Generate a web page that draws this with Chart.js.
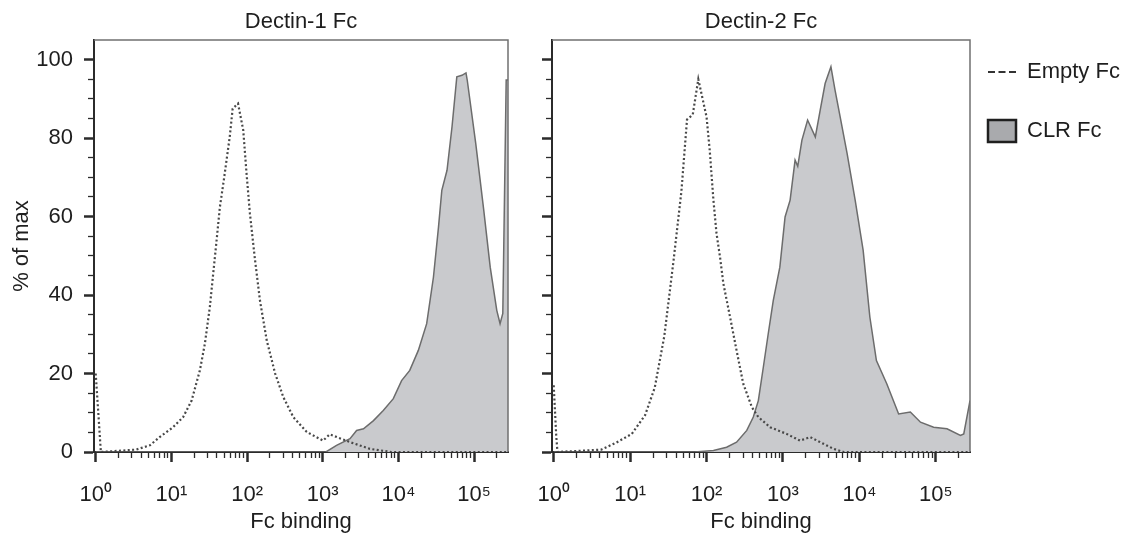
<!DOCTYPE html>
<html>
<head>
<meta charset="utf-8">
<script src="https://cdn.jsdelivr.net/npm/chart.js@4.4.1/dist/chart.umd.min.js"></script>
<style>
  html, body { margin: 0; padding: 0; background: #fff; overflow: hidden; }
  body { position: relative; width: 1127px; height: 543px; }
  canvas { position: absolute; top: 0; }
  #dectin1 { left: 0; }
  #dectin2 { left: 530px; }
  #legend { left: 951px; top: 24px; }
</style>
</head>
<body>
<canvas id="dectin1" width="530" height="543"></canvas>
<canvas id="dectin2" width="460" height="543"></canvas>
<canvas id="legend" width="360" height="200"></canvas>
<script>
// histogram values (x = Fc binding, y = % of max)
const dectin1EmptyX = [1, 1.1, 1.17, 2, 3.4, 5.2, 7, 10.5, 14.3, 18.5, 23.8, 27.7, 32.2, 35.7, 39.6, 43.7, 49.3, 59, 64.5, 76, 89, 98.4, 109, 126, 148, 182, 235, 301, 408, 614, 1010, 1235, 2300, 4200, 8000, 280000];
const dectin1EmptyY = [20, 8, 0, 0.3, 0.6, 1.7, 3.8, 6.3, 8.9, 13.1, 20.8, 27.6, 36.9, 45.5, 54, 62.4, 69.3, 80.3, 87.5, 88.8, 82, 71, 60.8, 49.7, 38.6, 28.4, 20, 14, 8.9, 5.1, 2.9, 4.5, 2.5, 0.8, 0, 0];
const dectin1ClrX = [1, 1100, 1520, 2290, 2800, 3450, 4680, 6300, 8550, 11000, 14100, 18300, 23600, 29000, 33800, 37400, 43800, 51000, 59000, 69000, 78000, 81000, 105000, 134000, 163000, 199000, 220000, 239000, 265000, 280000];
const dectin1ClrY = [0, 0, 1.7, 3.4, 5.5, 5.9, 8, 10.6, 13.6, 18.2, 20.8, 25.9, 32.7, 44.6, 57.3, 66.7, 71.8, 82.9, 95.6, 96, 96.6, 94.8, 78.6, 61.6, 47.1, 36.1, 32.7, 35.3, 94.8, 94.8];

const dectin2EmptyX = [1, 1.08, 1.12, 4.2, 6.6, 10.5, 15.7, 21, 28, 37, 46.8, 55.5, 66, 78, 93, 100, 110, 123, 135, 150, 166, 203, 247, 302, 392, 476, 680, 1120, 1670, 2270, 3070, 4600, 6200, 280000];
const dectin2EmptyY = [17, 4, 0, 0.6, 2.4, 4.6, 9.4, 16.4, 29.5, 48.8, 66.3, 84.7, 86, 95, 88.2, 85.4, 76.9, 64.2, 55.7, 49.7, 42.9, 34.4, 25.9, 17.4, 11.4, 8.9, 6.3, 4.6, 2.9, 3.8, 2.5, 0.8, 0, 0];
const dectin2ClrX = [1, 70, 123, 183, 247, 336, 409, 476, 553, 642, 746, 910, 1065, 1240, 1440, 1560, 1770, 2100, 2650, 3070, 3560, 4240, 4800, 5600, 6900, 8800, 11200, 13700, 16700, 22800, 32600, 46400, 63000, 93600, 140000, 210000, 232000, 280000];
const dectin2ClrY = [0, 0, 0.4, 1.2, 2.5, 5.5, 8.9, 13.1, 21.6, 30.2, 38.6, 47.1, 59.9, 64.2, 74.4, 72.8, 79.5, 84.6, 80.3, 87.1, 93.9, 98.2, 92.2, 85.4, 76.1, 64.2, 51.4, 34.4, 23.3, 17.4, 9.7, 10.2, 7.6, 6.3, 5.9, 4.2, 4.6, 13.1];

const xDecades = [1, 10, 100, 1000, 10000, 100000];
const xTickLabels = ['10⁰', '10¹', '10²', '10³', '10⁴', '10⁵'];
const yTickValues = [0, 20, 40, 60, 80, 100];
const yTickLabels = ['0', '20', '40', '60', '80', '100'];

const X_MIN = 0.95;
const X_MAX = 280000;
const Y_MAX = 105;
const AXIS_COLOR = '#2b2b2b';

Chart.defaults.font.family = '"Liberation Sans", Arial, sans-serif';
Chart.defaults.font.size = 22;
Chart.defaults.color = '#1e1e1e';

// minor tick marks: 1..9 per decade, every 5 on y
const xTickMarks = [];
xDecades.forEach((d) => {
    for (let k = 1; k <= 9; k++) {
        if (k * d <= X_MAX) xTickMarks.push(k * d);
    }
});
const yTickMarks = [];
for (let v = 0; v <= 100; v += 5) yTickMarks.push(v);

const isMajorX = (c) => c.tick && xDecades.includes(c.tick.value);
const isMajorY = (c) => c.tick && yTickValues.includes(c.tick.value);

function points(xs, ys) {
    return xs.map((x, i) => ({ x: x, y: ys[i] }));
}

// gray box line on top and right of the plot
const framePlugin = {
    id: 'frame',
    afterDatasetsDraw(chart) {
        const { ctx, chartArea } = chart;
        ctx.save();
        ctx.strokeStyle = '#707070';
        ctx.lineWidth = 1.5;
        ctx.beginPath();
        ctx.moveTo(chartArea.left, chartArea.top);
        ctx.lineTo(chartArea.right, chartArea.top);
        ctx.lineTo(chartArea.right, chartArea.bottom);
        ctx.stroke();
        ctx.restore();
    },
};

function panelConfig(title, emptyData, clrData, showYLabels, yAxisWidth, rightPad) {
    return {
        type: 'line',
        data: {
            datasets: [
                {
                    label: 'Empty Fc',
                    data: emptyData,
                    borderColor: '#484848',
                    borderWidth: 2.2,
                    borderDash: [2, 2.4],
                    pointRadius: 0,
                    fill: false,
                    tension: 0,
                },
                {
                    label: 'CLR Fc',
                    data: clrData,
                    borderColor: '#6c6c6c',
                    borderWidth: 1.5,
                    backgroundColor: '#c9cacd',
                    pointRadius: 0,
                    fill: 'origin',
                    tension: 0,
                },
            ],
        },
        options: {
            responsive: false,
            animation: false,
            events: [],
            layout: { padding: { right: rightPad } },
            plugins: {
                legend: { display: false },
                tooltip: { enabled: false },
                title: {
                    display: true,
                    text: title,
                    fullSize: false,
                    font: { size: 22, weight: 'normal' },
                    padding: { top: 9, bottom: 4.6 },
                },
            },
            scales: {
                x: {
                    type: 'logarithmic',
                    min: X_MIN,
                    max: X_MAX,
                    afterBuildTicks: (scale) => {
                        scale.ticks = xTickMarks.map((v) => ({ value: v }));
                    },
                    afterFit: (scale) => {
                        scale.height = 91;
                        // let the 10^0 label hang over the y axis area
                        scale.paddingLeft = 0;
                        scale.paddingRight = 0;
                    },
                    border: { display: true, color: AXIS_COLOR, width: 2 },
                    grid: {
                        drawOnChartArea: false,
                        tickLength: 10,
                        tickColor: AXIS_COLOR,
                        tickWidth: (c) => (isMajorX(c) ? 2.5 : 1.3),
                        tickBorderDash: (c) => (isMajorX(c) ? [] : [5, 30]),
                    },
                    ticks: {
                        autoSkip: false,
                        maxRotation: 0,
                        minRotation: 0,
                        padding: 20,
                        callback: (value) => {
                            const i = xDecades.indexOf(value);
                            return i < 0 ? '' : xTickLabels[i];
                        },
                    },
                    title: {
                        display: true,
                        text: 'Fc binding',
                        padding: { top: 0, bottom: 8 },
                    },
                },
                y: {
                    min: 0,
                    max: Y_MAX,
                    afterBuildTicks: (scale) => {
                        scale.ticks = yTickMarks.map((v) => ({ value: v }));
                    },
                    afterFit: (scale) => {
                        scale.width = yAxisWidth;
                    },
                    border: { display: true, color: AXIS_COLOR, width: 2 },
                    grid: {
                        drawOnChartArea: false,
                        tickLength: 10,
                        tickColor: AXIS_COLOR,
                        tickWidth: (c) => (isMajorY(c) ? 2.5 : 1.3),
                        tickBorderDash: (c) => (isMajorY(c) ? [] : [5, 30]),
                        tickBorderDashOffset: (c) => (isMajorY(c) ? 0 : 31),
                    },
                    ticks: {
                        autoSkip: false,
                        padding: 11,
                        callback: (value) => {
                            const i = yTickValues.indexOf(value);
                            return showYLabels && i >= 0 ? yTickLabels[i] : '';
                        },
                    },
                    title: {
                        display: showYLabels,
                        text: '% of max',
                        padding: { top: 9, bottom: 0 },
                    },
                },
            },
        },
        plugins: [framePlugin],
    };
}

new Chart(
    document.getElementById('dectin1'),
    panelConfig('Dectin-1 Fc', points(dectin1EmptyX, dectin1EmptyY), points(dectin1ClrX, dectin1ClrY), true, 94, 22)
);
new Chart(
    document.getElementById('dectin2'),
    panelConfig('Dectin-2 Fc', points(dectin2EmptyX, dectin2EmptyY), points(dectin2ClrX, dectin2ClrY), false, 22, 20)
);

// legend sits to the right of the second panel
new Chart(document.getElementById('legend'), {
    type: 'line',
    data: {
        datasets: [
            { label: 'Empty Fc', data: [], borderColor: '#333333', borderWidth: 2, borderDash: [7, 3.5], pointStyle: 'line' },
            { label: 'CLR Fc', data: [], borderColor: '#1f1f1f', borderWidth: 2.5, backgroundColor: '#a9aaad', pointStyle: 'rect' },
        ],
    },
    options: {
        responsive: false,
        animation: false,
        events: [],
        scales: { x: { display: false }, y: { display: false } },
        plugins: {
            tooltip: { enabled: false },
            legend: {
                position: 'left',
                align: 'start',
                labels: {
                    usePointStyle: true,
                    pointStyleWidth: 28,
                    boxHeight: 22,
                    padding: 37,
                    generateLabels: (chart) =>
                        Chart.defaults.plugins.legend.labels.generateLabels(chart).map((item) => ({
                            ...item,
                            lineDash: chart.data.datasets[item.datasetIndex].borderDash || [],
                        })),
                },
            },
        },
    },
});
</script>
</body>
</html>
